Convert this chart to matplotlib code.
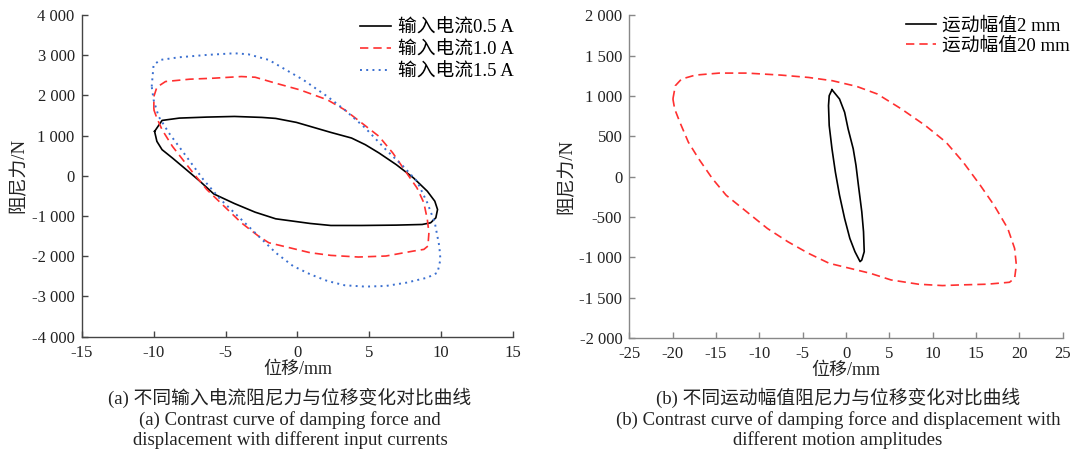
import numpy as np
import matplotlib
matplotlib.use('Agg')
import matplotlib.pyplot as plt

plt.rcParams['font.family'] = ['Liberation Serif', 'Noto Sans CJK SC']
plt.rcParams['axes.unicode_minus'] = False

# (a) hysteresis loops for different input currents (displacement mm, force N)
x_05 = [-9.93, -9.41, -8.21, -6.30, -4.38, -2.47, -1.51, -0.07, 0.89, 2.32, 3.76, 4.72, 5.67, 6.87,
        8.07, 9.03, 9.55, 9.74, 9.62, 9.26, 8.67, 6.87, 4.48, 2.32, 0.89, -1.51, -2.94, -4.38, -5.82,
        -6.78, -7.73, -8.69, -9.41, -9.77, -9.93]
f_05 = [1104, 1377, 1435, 1460, 1476, 1452, 1427, 1328, 1228, 1079, 939, 773, 567, 277,
        -54, -385, -633, -840, -1046, -1170, -1212, -1228, -1237, -1237, -1187, -1071, -906, -691, -451,
        -136, 153, 442, 649, 856, 1104]

x_10 = [-9.98, -9.98, -9.77, -9.17, -7.49, -5.82, -3.90, -2.94, -1.51, 0.17, 2.08, 3.28, 4.48, 5.67,
        6.63, 7.59, 8.31, 8.79, 9.03, 9.14, 9.07, 8.79, 8.07, 6.15, 4.24, 2.32, 0.89, -1.03, -1.99,
        -2.71, -3.90, -5.34, -6.30, -7.25, -8.69, -9.41, -9.77, -9.98]
f_10 = [1642, 1973, 2204, 2345, 2403, 2428, 2469, 2452, 2303, 2138, 1890, 1642, 1311, 980,
        567, 70, -302, -674, -1088, -1419, -1749, -1832, -1873, -1997, -2022, -1981, -1915, -1749, -1667,
        -1501, -1170, -674, -343, 70, 732, 1146, 1435, 1642]

x_15 = [-10.13, -10.0, -9.53, -8.21, -6.30, -4.38, -3.42, -1.99, -0.79, 0.41, 2.08, 3.28, 4.72, 6.15,
        7.35, 8.31, 9.03, 9.55, 9.86, 9.94, 9.74, 9.03, 7.59, 6.15, 4.72, 3.28, 2.08, 0.89, -0.31,
        -1.51, -2.94, -4.14, -5.34, -6.54, -7.73, -8.93, -9.65, -10.0, -10.13]
f_15 = [2221, 2758, 2883, 2949, 3007, 3048, 3023, 2883, 2634, 2386, 1973, 1642, 1187, 649,
        236, -136, -674, -1170, -1749, -2080, -2411, -2535, -2659, -2742, -2758, -2725, -2618, -2452, -2245,
        -1915, -1419, -1005, -591, -95, 484, 1063, 1476, 1890, 2221]

# (b) hysteresis loops for different motion amplitudes
x_2 = [-1.62, -0.75, -0.16, 0.24, 0.83, 1.15, 1.43, 1.82, 2.02, 2.10, 1.82, 1.62, 1.03, 0.44, -0.16,
       -0.75, -1.23, -1.62, -1.94, -2.02, -1.94, -1.62]
f_2 = [1078, 963, 798, 593, 346, 140, -107, -436, -683, -930, -1033, -1053, -930, -765, -519,
       -230, 58, 346, 634, 881, 1004, 1078]

x_20 = [-19.97, -19.69, -18.98, -17.39, -14.62, -11.45, -7.49, -4.32, -1.55, 1.23, 3.61, 6.38, 9.15,
        11.53, 13.51, 15.49, 17.08, 18.66, 19.45, 19.65, 19.45, 18.86, 16.28, 13.11, 11.13, 8.36, 5.19,
        2.81, 0.44, -1.94, -4.32, -6.70, -9.07, -11.45, -13.83, -15.41, -17.00, -18.19, -19.17, -19.77,
        -19.97]
f_20 = [963, 1128, 1210, 1259, 1284, 1284, 1259, 1230, 1189, 1119, 1025, 840, 634,
        428, 181, -107, -354, -642, -889, -1095, -1259, -1309, -1333, -1342, -1350, -1333, -1280,
        -1198, -1136, -1074, -951, -807, -642, -436, -230, -25, 222, 428, 675, 840,
        963]

labels_a = ['输入电流0.5 A', '输入电流1.0 A', '输入电流1.5 A']
labels_b = ['运动幅值2 mm', '运动幅值20 mm']

xticks_a = [-15, -10, -5, 0, 5, 10, 15]
yticks_a = [-4000, -3000, -2000, -1000, 0, 1000, 2000, 3000, 4000]
ylabels_a = ['-4 000', '-3 000', '-2 000', '-1 000', '0', '1 000', '2 000', '3 000', '4 000']
xticks_b = [-25, -20, -15, -10, -5, 0, 5, 10, 15, 20, 25]
yticks_b = [-2000, -1500, -1000, -500, 0, 500, 1000, 1500, 2000]
ylabels_b = ['-2 000', '-1 500', '-1 000', '-500', '0', '500', '1 000', '1 500', '2 000']

fig = plt.figure(figsize=(10.8, 4.55), dpi=100)
ax1 = fig.add_axes([0.0756, 0.2604, 0.3996, 0.7066])
ax2 = fig.add_axes([0.5827, 0.2571, 0.4013, 0.7092])

ax1.plot(x_05, f_05, color='black', lw=1.2, label=labels_a[0])
ax1.plot(x_10, f_10, color='#ff3030', lw=1.2, ls=(0, (5, 3)), label=labels_a[1])
ax1.plot(x_15, f_15, color='#3a6fd0', lw=1.4, ls=(0, (1, 2.2)), label=labels_a[2])

ax2.plot(x_2, f_2, color='black', lw=1.2, label=labels_b[0])
ax2.plot(x_20, f_20, color='#ff3030', lw=1.2, ls=(0, (5, 3)), label=labels_b[1])

for ax, xt, yt, yl, sc in [(ax1, xticks_a, yticks_a, ylabels_a, '#444444'),
                           (ax2, xticks_b, yticks_b, ylabels_b, '#888888')]:
    ax.set_xlim(xt[0], xt[-1])
    ax.set_ylim(yt[0], yt[-1])
    ax.set_xticks(xt)
    ax.set_xticklabels([str(v) for v in xt])
    ax.set_yticks(yt)
    ax.set_yticklabels(yl)
    for s in ['top', 'right']:
        ax.spines[s].set_visible(False)
    for s in ['left', 'bottom']:
        ax.spines[s].set_color(sc)
        ax.spines[s].set_linewidth(1.0)
    ax.tick_params(direction='in', length=4, width=1.0, color=sc, labelsize=12,
                   labelcolor='#222222')
    ax.tick_params(axis='y', pad=5)
    ax.tick_params(axis='x', pad=6)
    ax.set_ylabel('阻尼力/N', fontsize=13.5, color='#222222', labelpad=3)
    ax.set_xlabel('位移/mm', fontsize=13, color='#222222', labelpad=0)

ax1.legend(loc='upper left', frameon=False, fontsize=13.5, handlelength=1.65, handletextpad=0.4,
           labelspacing=0.25, borderpad=0, borderaxespad=0,
           bbox_to_anchor=(360 / 1080, 1 - 19 / 455), bbox_transform=fig.transFigure)
ax2.legend(loc='upper left', frameon=False, fontsize=13.5, handlelength=1.6, handletextpad=0.3,
           labelspacing=0.15, borderpad=0, borderaxespad=0,
           bbox_to_anchor=(906 / 1080, 1 - 17 / 455), bbox_transform=fig.transFigure)

cap_a = ['(a) 不同输入电流阻尼力与位移变化对比曲线', '(a) Contrast curve of damping force and',
         'displacement with different input currents']
cap_b = ['(b) 不同运动幅值阻尼力与位移变化对比曲线',
         '(b) Contrast curve of damping force and displacement with', 'different motion amplitudes']
ys = [398, 420, 440]
for cx, cap in [(290, cap_a), (838, cap_b)]:
    for i, (t, y) in enumerate(zip(cap, ys)):
        fig.text(cx / 1080, 1 - y / 455, t, ha='center', va='center',
                 fontsize=13.5, color='#222222')

fig.savefig('out.png', dpi=100)
